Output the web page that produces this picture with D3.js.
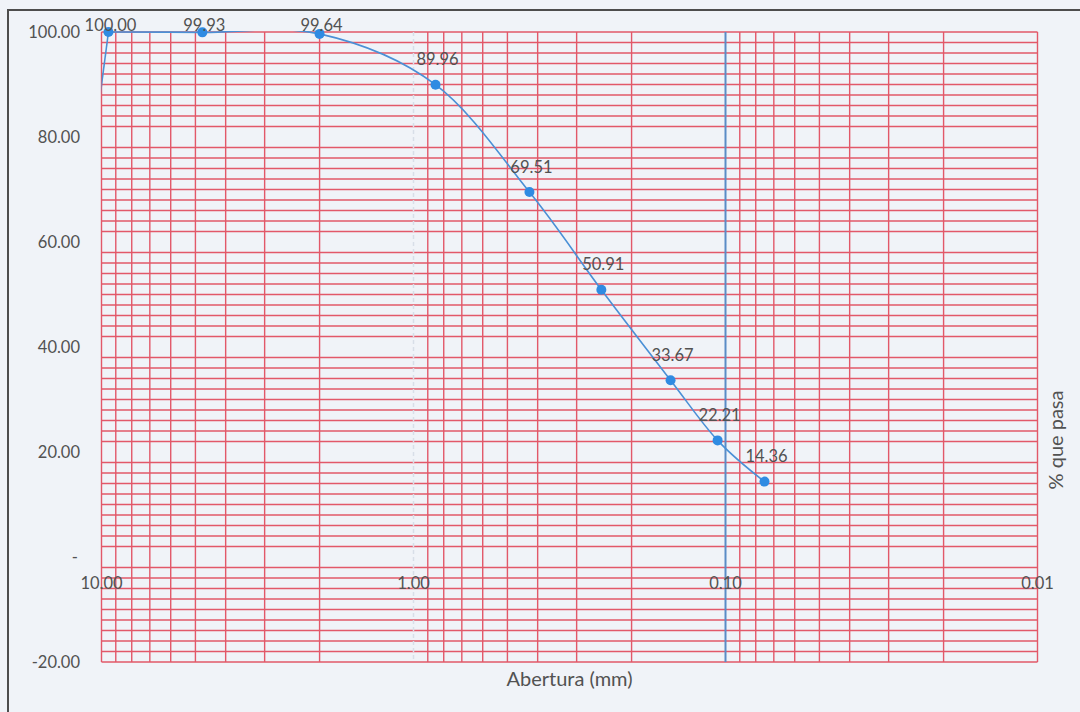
<!DOCTYPE html>
<html>
<head>
<meta charset="utf-8">
<script src="https://cdn.jsdelivr.net/npm/d3@7"></script>
<style>
  html, body { margin: 0; padding: 0; background: #f0f3f8; }
  svg { display: block; }
  text { font-family: Lato, "Open Sans", sans-serif; fill: #525252; }
</style>
</head>
<body>
<svg id="chart" width="1080" height="712"></svg>
<script>
// Sieve openings (mm) and percent passing
const aberturas = [9.5, 4.75, 2.0, 0.85, 0.425, 0.25, 0.15, 0.106, 0.075];
const pasa = [100.00, 99.93, 99.64, 89.96, 69.51, 50.91, 33.67, 22.21, 14.36];
// Coarser sieve beyond the axis range; only the curve reaches it
const aberturaInicial = 12.5;
const pasaInicial = 46;

const xTickValues = [10, 1, 0.1, 0.01];
const yTickValues = [100, 80, 60, 40, 20, 0, -20];

const svg = d3.select("#chart");
const W = 1080, H = 712;

const x = d3.scaleLog().domain([10, 0.01]).range([101.5, 1037.5]);
const y = d3.scaleLinear().domain([-20, 100]).range([662, 32]);

// background
svg.append("rect").attr("width", W).attr("height", H).attr("fill", "#f0f3f8");

// chart frame (top and left edges)
svg.append("path")
  .attr("d", `M8,${H} L8,10 L${W},10`)
  .attr("fill", "none").attr("stroke", "#4d4d4d").attr("stroke-width", 2);

const grid = svg.append("g");
const red = "#e25869";

// horizontal minor gridlines every 2 %
const hLines = d3.range(-20, 101, 2).filter(v => v % 20 !== 0 || v === -20 || v === 100);
grid.selectAll("line.h").data(hLines).join("line")
  .attr("x1", x(10)).attr("x2", x(0.01))
  .attr("y1", d => y(d)).attr("y2", d => y(d))
  .attr("stroke", red).attr("stroke-width", 1.4);

// vertical log gridlines
const majors = [1, 0.1];
const vLines = x.ticks().filter(v => !majors.some(m => Math.abs(v - m) < 1e-9));
grid.selectAll("line.v").data(vLines).join("line")
  .attr("x1", d => x(d)).attr("x2", d => x(d))
  .attr("y1", y(100)).attr("y2", y(-20))
  .attr("stroke", red).attr("stroke-width", 1.4);

// major line at 1 mm (light dashed)
grid.append("line")
  .attr("x1", x(1)).attr("x2", x(1)).attr("y1", y(100)).attr("y2", y(-20))
  .attr("stroke", "#d8dee8").attr("stroke-width", 1.5).attr("stroke-dasharray", "4,3");

// major line at 0.1 mm (blue)
grid.append("line")
  .attr("x1", x(0.1)).attr("x2", x(0.1)).attr("y1", y(100)).attr("y2", y(-20))
  .attr("stroke", "#5a8cc6").attr("stroke-width", 2);

// y tick labels
svg.append("g").selectAll("text").data(yTickValues).join("text")
  .attr("x", d => d === 0 ? 78 : 80)
  .attr("y", d => y(d))
  .attr("dy", "0.35em")
  .attr("text-anchor", "end")
  .attr("font-size", 16.5)
  .text(d => d === 0 ? "-" : d.toFixed(2));

// x tick labels (below the zero line)
svg.append("g").selectAll("text").data(xTickValues).join("text")
  .attr("x", d => x(d))
  .attr("y", y(0) + 26)
  .attr("dy", "0.35em")
  .attr("text-anchor", "middle")
  .attr("font-size", 16.5)
  .text(d => d.toFixed(2));

// axis titles
svg.append("text")
  .attr("x", (x(10) + x(0.01)) / 2).attr("y", 679).attr("dy", "0.35em")
  .attr("text-anchor", "middle").attr("font-size", 20)
  .text("Abertura (mm)");

svg.append("text")
  .attr("transform", `translate(1056,440) rotate(-90)`)
  .attr("dy", "0.35em")
  .attr("text-anchor", "middle").attr("font-size", 20)
  .text("% que pasa");

// curve, clipped to the plot area
svg.append("clipPath").attr("id", "plotClip")
  .append("rect").attr("x", x(10)).attr("y", y(100) - 1)
  .attr("width", x(0.01) - x(10)).attr("height", y(-20) - y(100) + 1);

const curveG = svg.append("g").attr("clip-path", "url(#plotClip)");
const measured = aberturas.map((a, i) => [a, pasa[i]]);

const lineBase = d3.line().x(d => x(d[0])).y(d => y(d[1]));

// lead-in from the coarser sieve
curveG.append("path")
  .attr("d", lineBase([[aberturaInicial, pasaInicial], measured[0]]))
  .attr("fill", "none").attr("stroke", "#4a90d6").attr("stroke-width", 1.6);

// smoothed curve through the measured points
curveG.append("path")
  .attr("d", lineBase.curve(d3.curveCatmullRom.alpha(0))(measured))
  .attr("fill", "none").attr("stroke", "#4a90d6").attr("stroke-width", 1.6);

// markers
svg.append("g").selectAll("circle").data(aberturas).join("circle")
  .attr("cx", d => x(d)).attr("cy", (d, i) => y(pasa[i]))
  .attr("r", 5).attr("fill", "#2f8be2");

// data labels above markers, kept inside the chart frame
svg.append("g").selectAll("text").data(aberturas).join("text")
  .attr("x", d => x(d) + 2)
  .attr("y", (d, i) => Math.max(y(pasa[i]) - 25, 25))
  .attr("dy", "0.35em")
  .attr("text-anchor", "middle")
  .attr("font-size", 16.5)
  .text((d, i) => pasa[i].toFixed(2));
</script>
</body>
</html>
